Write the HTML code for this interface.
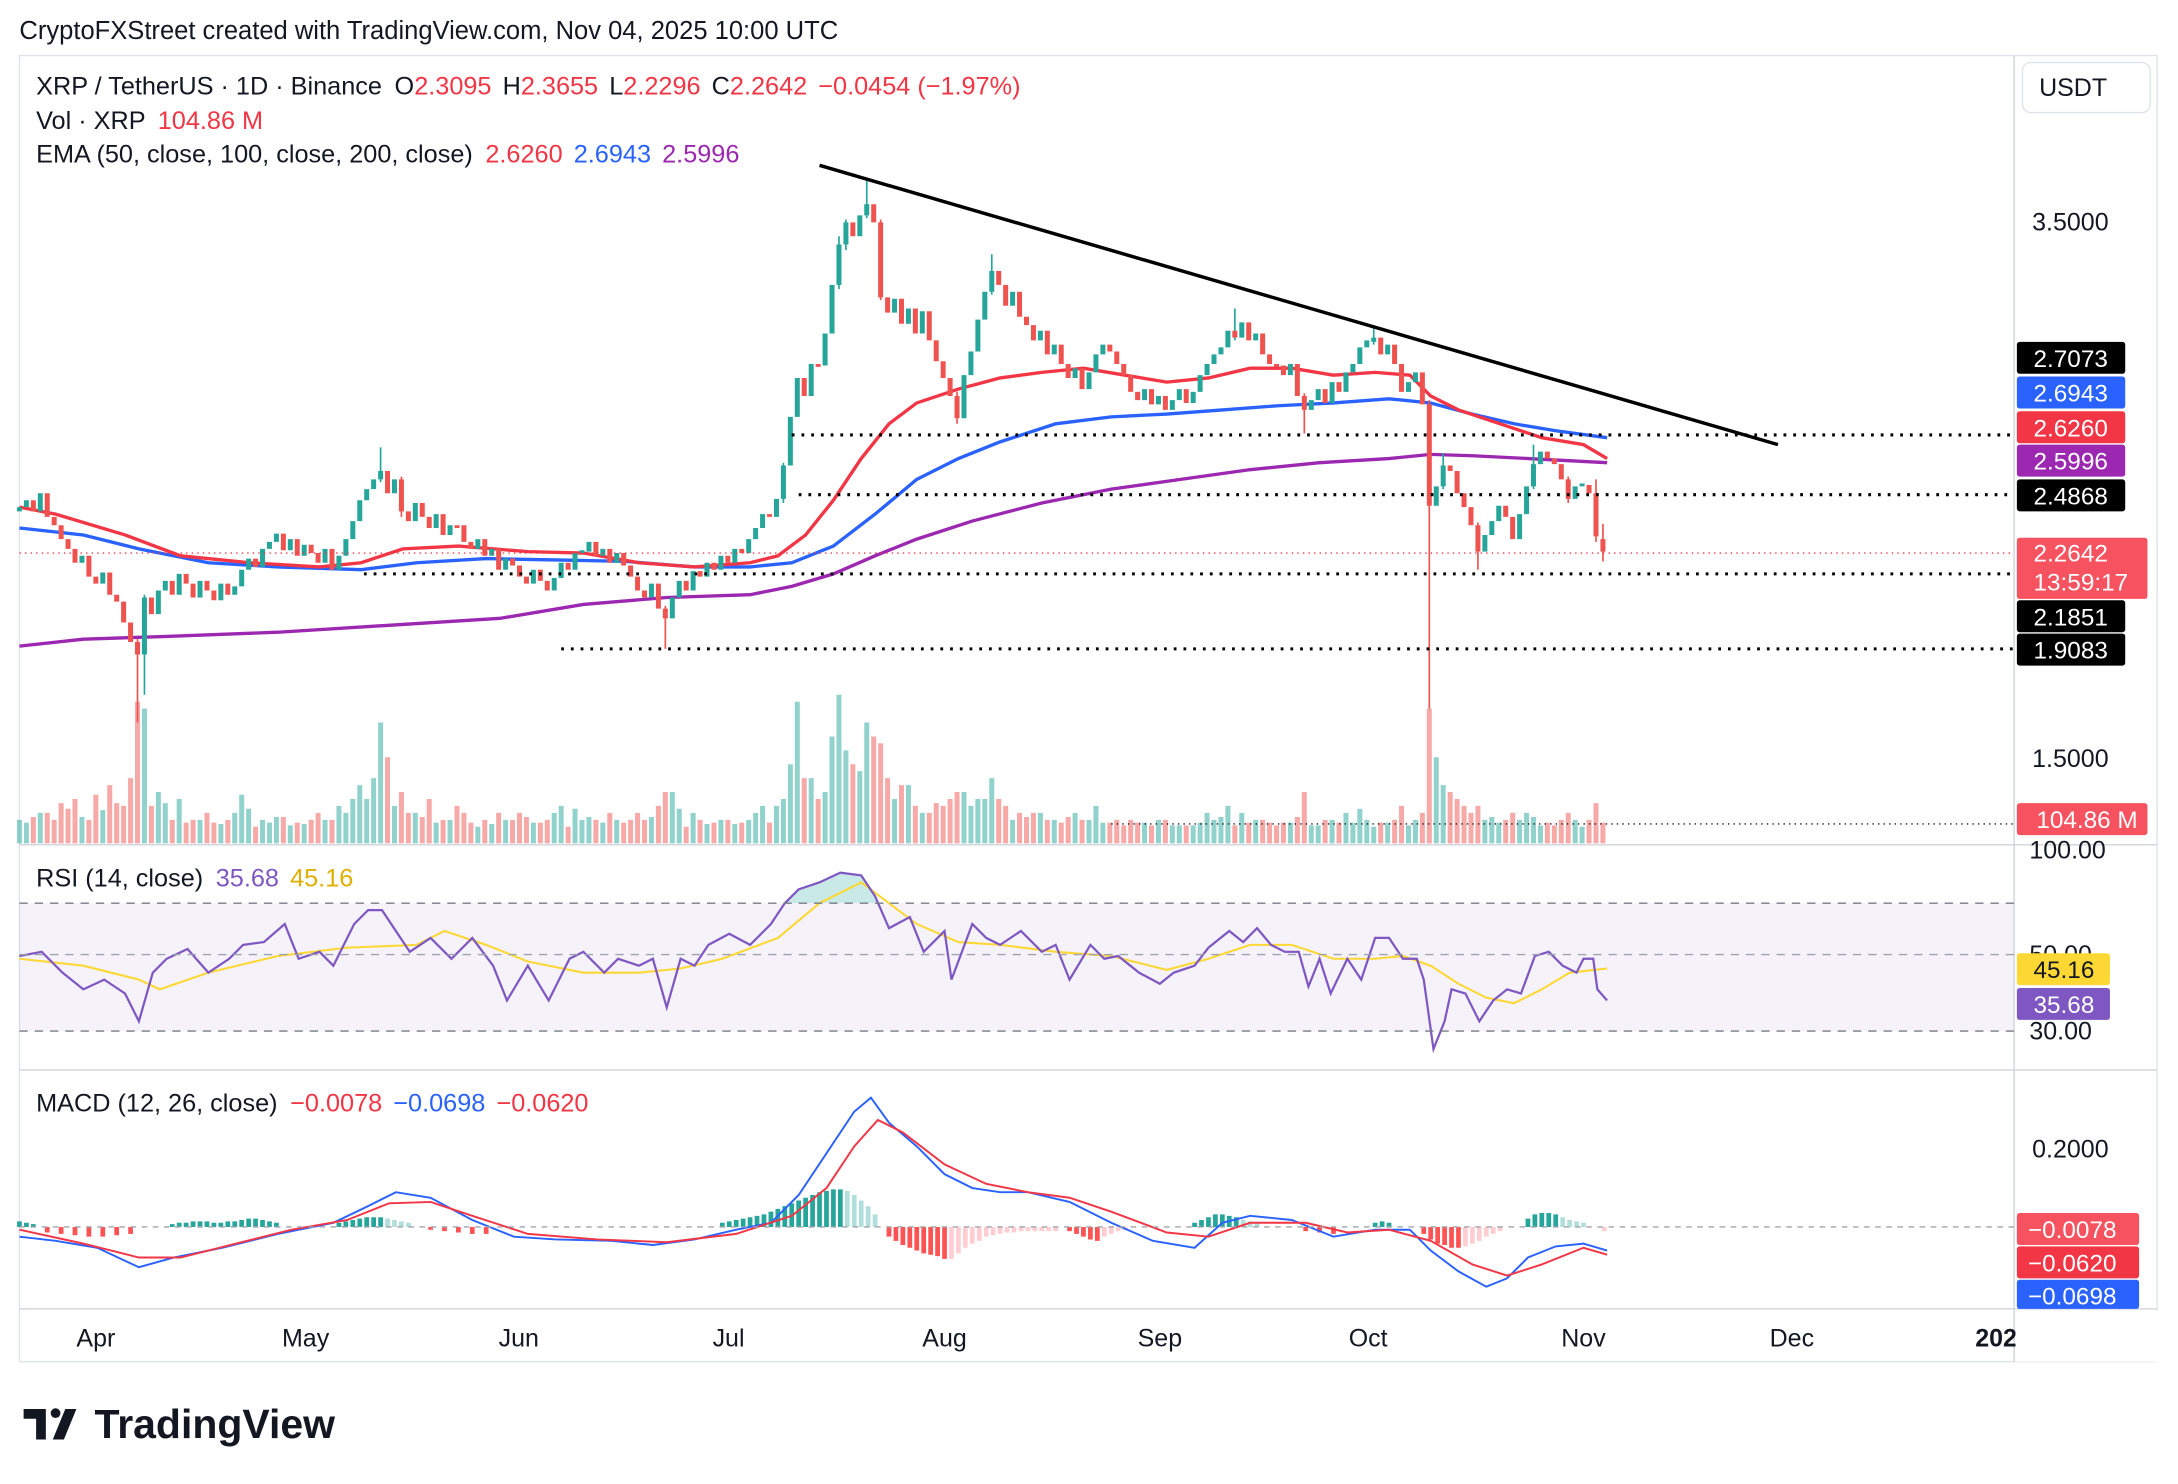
<!DOCTYPE html>
<html><head><meta charset="utf-8">
<style>
html,body{margin:0;padding:0;background:#fff;}
svg{display:block;}
text{font-family:"Liberation Sans",sans-serif;}
</style></head>
<body>
<svg width="2178" height="1484" viewBox="0 0 1568 1068" preserveAspectRatio="none" xmlns="http://www.w3.org/2000/svg">
<rect width="1568" height="1068" fill="#fff"/>
<text x="14" y="28" font-size="18.4" fill="#131722">CryptoFXStreet created with TradingView.com, Nov 04, 2025 10:00 UTC</text>
<rect x="14" y="40" width="1539" height="940" fill="#fff" stroke="#e0e3eb"/>
<rect x="14" y="650" width="1436" height="92" fill="#7e57c2" fill-opacity="0.08"/>

<!-- volume -->
<path fill="none" stroke="#26a69a" stroke-opacity="0.5" stroke-width="3.6" d="M14 607V590M19 607V592M29 607V585M59 607V588M74 607V583M104 607V510M114 607V570M119 607V578M129 607V575M144 607V590M159 607V593M169 607V585M174 607V572M179 607V582M189 607V590M194 607V592M199 607V588M209 607V594M219 607V593M234 607V590M244 607V580M249 607V585M254 607V575M259 607V565M264 607V575M269 607V560M274 607V520M284 607V580M299 607V585M314 607V592M324 607V590M344 607V595M354 607V593M364 607V590M384 607V592M399 607V585M404 607V580M414 607V582M419 607V590M424 607V588M434 607V592M444 607V590M469 607V588M484 607V570M489 607V582M499 607V585M509 607V593M519 607V590M529 607V593M539 607V590M544 607V585M549 607V580M559 607V580M564 607V575M569 607V550M574 607V505M584 607V560M594 607V570M599 607V530M604 607V500M609 607V540M619 607V555M624 607V520M644 607V575M654 607V565M664 607V585M694 607V570M699 607V580M704 607V575M709 607V575M714 607V560M729 607V590M749 607V585M759 607V590M774 607V585M784 607V590M789 607V580M794 607V592M824 607V592M834 607V590M844 607V594M849 607V594M859 607V594M864 607V592M869 607V585M874 607V590M879 607V588M884 607V580M894 607V585M904 607V590M929 607V592M944 607V594M949 607V594M959 607V590M969 607V585M974 607V592M979 607V582M984 607V590M989 607V595M999 607V592M1014 607V594M1019 607V590M1034 607V545M1039 607V565M1069 607V590M1074 607V588M1079 607V592M1094 607V590M1099 607V585M1104 607V588M1109 607V594M1134 607V590M1139 607V595"/>
<path fill="none" stroke="#ef5350" stroke-opacity="0.5" stroke-width="3.6" d="M24 607V588M34 607V585M39 607V590M44 607V578M49 607V582M54 607V575M64 607V590M69 607V572M79 607V565M84 607V578M89 607V580M94 607V560M99 607V505M109 607V580M124 607V590M134 607V592M139 607V590M149 607V585M154 607V592M164 607V590M184 607V595M204 607V588M214 607V592M224 607V590M229 607V585M239 607V590M279 607V545M289 607V570M294 607V585M304 607V588M309 607V575M319 607V590M329 607V580M334 607V585M339 607V592M349 607V590M359 607V585M369 607V590M374 607V585M379 607V588M389 607V592M394 607V590M409 607V595M429 607V590M439 607V585M449 607V592M454 607V590M459 607V585M464 607V590M474 607V580M479 607V570M494 607V595M504 607V590M514 607V592M524 607V590M534 607V592M554 607V592M579 607V560M589 607V575M614 607V550M629 607V530M634 607V535M639 607V560M649 607V565M659 607V580M669 607V585M674 607V578M679 607V580M684 607V575M689 607V570M719 607V575M724 607V580M734 607V585M739 607V588M744 607V585M754 607V590M764 607V592M769 607V588M779 607V590M799 607V592M804 607V590M809 607V594M814 607V590M819 607V592M829 607V594M839 607V590M854 607V594M889 607V594M899 607V592M909 607V590M914 607V592M919 607V594M924 607V592M934 607V588M939 607V570M954 607V590M964 607V592M994 607V592M1004 607V590M1009 607V580M1024 607V585M1029 607V510M1044 607V570M1049 607V575M1054 607V580M1059 607V585M1064 607V580M1084 607V590M1089 607V585M1114 607V592M1119 607V594M1124 607V590M1129 607V585M1144 607V590M1149 607V578M1154 607V592"/>

<!-- EMAs -->
<polyline fill="none" stroke="#9c27b0" stroke-width="2.4" points="14,465 60,460 120,458 200,455 280,450 360,445 420,435 480,430 540,428 570,422 600,413 630,400 660,388 700,375 750,362 800,352 850,345 900,338 950,333 1000,330 1030,327 1060,328 1100,330 1157,333"/>
<polyline fill="none" stroke="#2962ff" stroke-width="2.4" points="14,380 60,385 100,395 150,405 200,408 260,410 300,405 350,402 400,403 450,404 500,408 540,408 570,405 600,393 630,370 660,345 690,330 720,318 760,305 800,300 840,298 880,295 920,292 960,290 1000,287 1030,290 1060,298 1090,305 1120,310 1157,315"/>
<polyline fill="none" stroke="#f23645" stroke-width="2.4" points="14,365 40,370 90,385 130,400 180,405 230,408 260,405 290,395 330,393 380,397 420,398 460,405 500,408 540,405 560,400 580,385 600,360 620,330 640,305 660,290 690,280 720,272 750,268 780,265 810,270 840,275 870,272 900,265 930,265 960,270 990,268 1015,270 1030,285 1050,295 1080,305 1110,315 1140,320 1157,330"/>

<!-- special wicks -->
<path fill="none" stroke="#ef5350" stroke-width="1.2" d="M99 460V520M479 436V467M1029 288V510M1154 377V404M634 158V216M289 343V372M1064 376V410M1149 345V390M689 282V305M939 283V312M1129 343V362"/>
<path fill="none" stroke="#26a69a" stroke-width="1.2" d="M104 428V500M274 322V347M624 130V157M609 158V180M714 183V212M889 222V245M989 236V248M1039 326V352M1104 320V352M564 333V362M604 170V208"/>

<!-- candle bodies -->
<path fill="none" stroke="#26a69a" stroke-width="3.6" d="M14 365V368M19 360V365M29 355V368M59 400V405M74 412V420M104 430V471M114 425V442M119 418V425M129 413V428M144 418V430M159 420V432M169 422V428M174 410V422M179 402V410M189 395V408M194 390V395M199 384V390M209 388V396M219 392V400M234 395V405M244 400V410M249 388V400M254 375V388M259 360V375M264 352V360M269 345V352M274 339V345M284 345V355M299 362V375M314 370V380M324 378V385M344 388V395M354 395V400M364 402V410M384 410V420M399 416V425M404 405V416M414 398V410M419 396V398M424 390V397M434 395V400M444 398V405M469 420V430M484 430V445M489 418V430M499 411V425M509 405V415M519 400V410M529 395V405M539 388V398M544 380V388M549 370V380M559 359V372M564 335V359M569 300V335M574 272V300M584 262V285M594 240V263M599 205V240M604 176V205M609 160V176M619 155V170M624 147V155M644 215V225M654 222V233M664 224V240M694 270V301M699 253V270M704 230V253M709 210V230M714 195V210M729 210V220M749 238V245M759 248V255M774 265V272M784 268V280M789 255V268M794 248V255M824 280V288M834 285V291M844 288V295M849 280V288M859 282V290M864 270V282M869 262V270M874 255V262M879 250V255M884 238V250M894 232V243M904 240V245M929 262V270M944 288V295M949 280V288M959 275V290M969 268V282M974 262V268M979 250V262M984 245V250M989 243V246M999 248V255M1014 275V282M1019 268V275M1034 350V364M1039 335V350M1069 385V397M1074 375V385M1079 364V375M1094 370V388M1099 350V370M1104 334V350M1109 325V334M1134 350V359M1139 348V350"/>
<path fill="none" stroke="#ef5350" stroke-width="3.6" d="M24 360V368M34 355V372M39 372V378M44 378V388M49 388V395M54 395V405M64 400V415M69 415V420M79 412V428M84 428V433M89 433V448M94 448V462M99 462V471M109 430V442M124 418V428M134 413V420M139 420V430M149 418V425M154 425V432M164 420V428M184 402V408M204 384V396M214 388V400M224 392V398M229 398V405M239 395V410M279 339V355M289 345V368M294 368V375M304 362V372M309 372V380M319 370V385M329 378V380M334 378V390M339 390V395M349 388V400M359 395V410M369 402V407M374 407V415M379 415V420M389 410V418M394 418V425M409 405V410M429 390V400M439 395V405M449 398V407M454 407V415M459 415V425M464 425V430M474 420V438M479 438V445M494 418V425M504 411V415M514 405V410M524 400V405M534 395V398M554 370V372M579 272V285M589 262V264M614 160V170M629 147V160M634 160V214M639 214V225M649 215V233M659 222V240M669 224V245M674 245V260M679 260V272M684 272V285M689 285V301M719 195V205M724 205V220M734 210V228M739 228V234M744 234V245M754 238V255M764 248V262M769 262V272M779 265V280M799 248V253M804 253V262M809 262V270M814 270V282M819 282V288M829 280V291M839 285V295M854 280V290M889 238V243M899 232V245M909 240V255M914 255V262M919 262V264M924 263V270M934 262V285M939 285V295M954 280V290M964 275V282M994 243V255M1004 248V262M1009 262V282M1024 268V291M1029 291V364M1044 335V339M1049 339V355M1054 355V365M1059 365V378M1064 378V397M1084 364V372M1089 372V388M1114 325V330M1119 330V334M1124 334V345M1129 345V359M1144 349V355M1149 355V386M1154 388V397"/>

<!-- RSI -->
<path d="M565 650 L575 640 L590 635 L605 628 L620 630 L630 645 L632 650Z" fill="#26a69a" fill-opacity="0.25"/>
<polyline fill="none" stroke="#fdd835" stroke-width="1.5" points="14,690 60,695 100,705 115,712 150,700 200,688 250,682 300,680 320,670 350,680 380,692 420,700 460,700 490,697 520,690 560,675 590,650 620,635 640,650 660,665 690,678 720,680 760,685 800,688 840,698 870,690 900,680 930,680 960,690 990,690 1010,688 1030,695 1050,708 1070,718 1090,722 1110,712 1130,700 1157,697"/>
<polyline fill="none" stroke="#7e57c2" stroke-width="1.6" points="14,688 30,685 45,700 60,712 75,705 90,715 100,735 110,700 120,690 135,683 150,700 165,690 175,680 190,678 205,665 215,690 230,685 240,695 255,665 265,655 275,655 285,670 295,685 310,675 325,690 340,675 355,695 365,720 380,695 395,720 410,690 420,685 435,700 445,690 460,695 470,690 480,725 490,690 500,695 510,680 525,672 540,680 555,665 565,650 575,640 590,635 605,628 620,630 630,645 640,668 655,660 665,685 680,670 685,705 700,665 710,675 720,680 735,670 750,685 760,680 770,705 785,680 795,690 805,688 820,700 835,708 845,700 860,695 870,682 885,670 895,678 905,668 915,680 925,685 935,685 942,710 950,690 958,715 970,690 980,705 990,675 1000,675 1010,690 1020,690 1025,705 1032,755 1040,735 1045,712 1055,715 1065,735 1075,720 1085,712 1095,715 1105,688 1115,685 1125,695 1135,700 1140,690 1147,690 1150,712 1157,720"/>

<!-- MACD hist -->
<path fill="none" stroke="#26a69a" stroke-width="3.4" d="M14 883V879M19 883V880M24 883V881M124 883V881M129 883V880M134 883V880M139 883V879M144 883V879M149 883V879M154 883V880M159 883V880M164 883V879M169 883V879M174 883V878M179 883V877M184 883V877M189 883V878M194 883V879M199 883V880M244 883V880M249 883V879M254 883V878M259 883V877M264 883V876M269 883V876M274 883V876M520 883V880M525 883V879M530 883V878M535 883V877M540 883V876M545 883V875M550 883V874M555 883V872M560 883V870M565 883V868M570 883V866M575 883V864M580 883V862M585 883V860M590 883V858M595 883V857M600 883V856M605 883V856M860 883V880M865 883V878M870 883V876M875 883V874M880 883V874M885 883V875M890 883V876M990 883V880M995 883V879M1000 883V880M1100 883V877M1105 883V874M1110 883V873M1115 883V873M1120 883V874"/>
<path fill="none" stroke="#b2dfdb" stroke-width="3.4" d="M279 883V877M284 883V878M289 883V879M294 883V880M610 883V857M615 883V860M620 883V864M625 883V868M630 883V874M895 883V878M900 883V879M905 883V880M1125 883V876M1130 883V878M1135 883V879M1140 883V880"/>
<path fill="none" stroke="#ff5252" stroke-width="3.4" d="M34 883V887M44 883V888M54 883V889M64 883V890M74 883V890M84 883V889M94 883V888M310 883V885M320 883V886M330 883V887M340 883V888M350 883V888M640 883V890M645 883V893M650 883V896M655 883V898M660 883V900M665 883V902M670 883V903M675 883V904M680 883V906M770 883V886M775 883V888M780 883V890M785 883V892M790 883V893M940 883V886M950 883V887M960 883V888M1025 883V888M1030 883V892M1035 883V895M1040 883V896M1045 883V898M1050 883V898"/>
<path fill="none" stroke="#ffcdd2" stroke-width="3.4" d="M685 883V906M690 883V902M695 883V898M700 883V895M705 883V893M710 883V890M715 883V889M720 883V888M725 883V887M730 883V887M735 883V886M740 883V886M745 883V886M750 883V886M755 883V886M760 883V886M795 883V890M800 883V888M805 883V886M810 883V885M1055 883V897M1060 883V895M1065 883V893M1070 883V890M1075 883V888M1080 883V886M1155 883V886"/>
<polyline fill="none" stroke="#2962ff" stroke-width="1.4" points="14,890 40,893 70,898 100,912 125,905 160,898 200,888 240,880 265,868 285,858 310,862 340,878 370,890 400,892 440,893 470,896 500,892 530,885 555,880 575,860 595,830 615,800 627,790 640,808 660,825 680,845 700,855 720,858 740,858 770,865 800,880 830,893 860,898 880,880 900,875 930,878 960,890 990,885 1015,885 1030,900 1050,915 1070,926 1085,920 1100,905 1120,897 1140,895 1157,900"/>
<polyline fill="none" stroke="#f23645" stroke-width="1.4" points="14,885 60,895 100,905 130,905 170,895 210,885 250,878 280,866 310,865 340,875 380,888 430,892 480,894 530,888 570,875 595,855 615,825 632,806 650,815 680,838 710,852 740,858 770,862 800,872 840,887 870,890 900,880 940,880 970,887 1000,885 1030,893 1060,910 1085,918 1110,910 1140,898 1157,903"/>

<!-- separators -->
<line x1="14" y1="608" x2="1553" y2="608" stroke="#d1d4dc"/>
<line x1="14" y1="770" x2="1553" y2="770" stroke="#d1d4dc"/>
<line x1="14" y1="942" x2="1553" y2="942" stroke="#d1d4dc"/>
<line x1="1450" y1="40" x2="1450" y2="980" stroke="#d1d4dc"/>
<line x1="14" y1="650" x2="1450" y2="650" stroke="#787b86" stroke-dasharray="6,5"/>
<line x1="14" y1="687" x2="1450" y2="687" stroke="#a0a3ad" stroke-dasharray="6,5"/>
<line x1="14" y1="742" x2="1450" y2="742" stroke="#787b86" stroke-dasharray="6,5"/>
<line x1="14" y1="883" x2="1450" y2="883" stroke="#a0a3ad" stroke-dasharray="4,4"/>

<!-- legends -->
<text x="26" y="68" font-size="18.2" fill="#131722">XRP / TetherUS · 1D · Binance <tspan dx="4">O</tspan><tspan fill="#f23645">2.3095</tspan><tspan dx="8">H</tspan><tspan fill="#f23645">2.3655</tspan><tspan dx="8">L</tspan><tspan fill="#f23645">2.2296</tspan><tspan dx="8">C</tspan><tspan fill="#f23645">2.2642</tspan><tspan dx="8" fill="#f23645">−0.0454 (−1.97%)</tspan></text>
<text x="26" y="93" font-size="18.2" fill="#131722">Vol · XRP <tspan dx="4" fill="#f23645">104.86 M</tspan></text>
<text x="26" y="117" font-size="18.2" fill="#131722">EMA (50, close, 100, close, 200, close) <tspan dx="4" fill="#f23645">2.6260</tspan><tspan dx="8" fill="#2962ff">2.6943</tspan><tspan dx="8" fill="#9c27b0">2.5996</tspan></text>
<text x="26" y="638" font-size="18.2" fill="#131722">RSI (14, close) <tspan dx="4" fill="#7e57c2">35.68</tspan><tspan dx="8" fill="#e0b000">45.16</tspan></text>
<text x="26" y="800" font-size="18.2" fill="#131722">MACD (12, 26, close) <tspan dx="4" fill="#f23645">−0.0078</tspan><tspan dx="8" fill="#2962ff">−0.0698</tspan><tspan dx="8" fill="#f23645">−0.0620</tspan></text>

<!-- trendline & levels -->
<line x1="590" y1="119" x2="1280" y2="320" stroke="#000" stroke-width="2.5"/>
<g stroke="#000" stroke-width="2.2" stroke-dasharray="2,5">
<line x1="570" y1="313" x2="1450" y2="313"/>
<line x1="575" y1="356" x2="1450" y2="356"/>
<line x1="262" y1="413" x2="1450" y2="413"/>
<line x1="404" y1="467" x2="1450" y2="467"/>
</g>
<line x1="14" y1="398" x2="1450" y2="398" stroke="#f23645" stroke-dasharray="1,3"/>
<line x1="800" y1="593" x2="1450" y2="593" stroke="#131722" stroke-dasharray="1,3"/>

<g font-size="18" fill="#131722">
<text x="1463" y="166">3.5000</text>
<text x="1463" y="552">1.5000</text>
<text x="1461" y="618">100.00</text>
<text x="1461" y="693">50.00</text>
<text x="1461" y="748">30.00</text>
<text x="1463" y="833">0.2000</text>
<text x="55" y="969">Apr</text><text x="203" y="969">May</text><text x="359" y="969">Jun</text>
<text x="513" y="969">Jul</text><text x="664" y="969">Aug</text><text x="819" y="969">Sep</text>
<text x="971" y="969">Oct</text><text x="1124" y="969">Nov</text><text x="1274" y="969">Dec</text>
<text x="1422" y="969" font-weight="bold">2026</text>
</g>
<rect x="1451" y="943" width="104" height="37" fill="#fff"/>
<rect x="1456" y="45" width="92" height="36" rx="6" fill="#fff" stroke="#e0e3eb"/>
<text x="1468" y="69" font-size="18" fill="#131722">USDT</text>
<g font-size="17.5">
<rect x="1452" y="246" width="78" height="23" rx="2" fill="#000"/><text x="1464" y="264" fill="#fff">2.7073</text>
<rect x="1452" y="271" width="78" height="23" rx="2" fill="#2962ff"/><text x="1464" y="289" fill="#fff">2.6943</text>
<rect x="1452" y="296" width="78" height="23" rx="2" fill="#f23645"/><text x="1464" y="314" fill="#fff">2.6260</text>
<rect x="1452" y="320" width="78" height="23" rx="2" fill="#9c27b0"/><text x="1464" y="338" fill="#fff">2.5996</text>
<rect x="1452" y="345" width="78" height="23" rx="2" fill="#000"/><text x="1464" y="363" fill="#fff">2.4868</text>
<rect x="1452" y="387" width="94" height="44" rx="2" fill="#f7525f"/><text x="1464" y="404" fill="#fff">2.2642</text><text x="1464" y="425" fill="#fff">13:59:17</text>
<rect x="1452" y="432" width="78" height="23" rx="2" fill="#000"/><text x="1464" y="450" fill="#fff">2.1851</text>
<rect x="1452" y="456" width="78" height="23" rx="2" fill="#000"/><text x="1464" y="474" fill="#fff">1.9083</text>
<rect x="1452" y="578" width="94" height="23" rx="2" fill="#f7525f"/><text x="1466" y="596" fill="#fff">104.86 M</text>
<rect x="1452" y="686" width="67" height="23" rx="2" fill="#fdd835"/><text x="1464" y="704" fill="#131722">45.16</text>
<rect x="1452" y="711" width="67" height="23" rx="2" fill="#7e57c2"/><text x="1464" y="729" fill="#fff">35.68</text>
<rect x="1452" y="873" width="88" height="23" rx="2" fill="#f7525f"/><text x="1460" y="891" fill="#fff">−0.0078</text>
<rect x="1452" y="897" width="88" height="23" rx="2" fill="#f23645"/><text x="1460" y="915" fill="#fff">−0.0620</text>
<rect x="1452" y="921" width="88" height="21" rx="2" fill="#2962ff"/><text x="1460" y="939" fill="#fff">−0.0698</text>
</g>
<g fill="#131722">
<path d="M17 1014 h16 v22 h-7 v-15 h-9z"/>
<circle cx="40" cy="1017" r="3.5"/>
<path d="M38 1036 l9 -22 h8 l-9 22z"/>
</g>
<text x="68" y="1035" font-size="29.5" font-weight="bold" fill="#131722">TradingView</text>
</svg>
</body></html>
